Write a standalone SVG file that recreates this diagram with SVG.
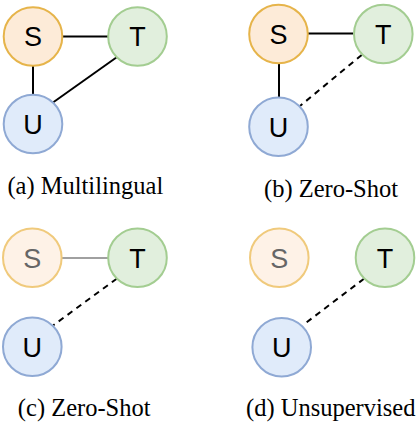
<svg xmlns="http://www.w3.org/2000/svg" width="420" height="424" viewBox="0 0 420 424">
<style>
.n circle{stroke-width:2}
.s circle{fill:#fdebd8;stroke:#e6b44a}
.s.f circle{fill:#fef2e7;stroke:#f0ca7c}
.t circle{fill:#e1efdd;stroke:#a3cd91}
.u circle{fill:#e0ebfa;stroke:#8fa9d4}
.n text{font-family:"Liberation Sans",Arial,sans-serif;font-size:27px;text-anchor:middle;fill:#000}
.f text{fill:#666}
.e{stroke:#000;stroke-width:2;fill:none}
.d{stroke-dasharray:6,5}
.g{stroke:#a0a0a0}
.lbl{font-family:"Liberation Serif","Times New Roman",serif;font-size:24.5px;text-anchor:middle;fill:#000}
</style>
<rect width="420" height="424" fill="#fff"/>
<g id="connectors">
<line class="e" x1="62" y1="36.5" x2="108" y2="36.5"/>
<line class="e" x1="33" y1="66" x2="33" y2="95"/>
<line class="e" x1="116.7" y1="57.3" x2="53.3" y2="102.3"/>
<line class="e" x1="308" y1="33.5" x2="353" y2="33.5"/>
<line class="e" x1="279" y1="64" x2="279" y2="97"/>
<line class="e d" x1="361.7" y1="55" x2="300" y2="106"/>
<line class="e g" x1="62" y1="258" x2="108" y2="258"/>
<line class="e d" x1="116.7" y1="278.7" x2="53.3" y2="325.3"/>
<line class="e d" x1="364" y1="278.7" x2="302.7" y2="325.3"/>
</g>
<g id="a-S" class="n s"><circle cx="33" cy="36.5" r="29.3"/><text x="33" y="46.3">S</text></g>
<g id="a-T" class="n t"><circle cx="137.5" cy="36.5" r="29.3"/><text x="137.5" y="46.3">T</text></g>
<g id="a-U" class="n u"><circle cx="33" cy="124" r="29.3"/><text x="33" y="133.8">U</text></g>
<g id="b-S" class="n s"><circle cx="278.5" cy="34" r="29.3"/><text x="278.5" y="43.8">S</text></g>
<g id="b-T" class="n t"><circle cx="383.3" cy="34" r="29.3"/><text x="383.3" y="43.8">T</text></g>
<g id="b-U" class="n u"><circle cx="278.5" cy="126.7" r="29.3"/><text x="278.5" y="136.5">U</text></g>
<g id="c-S" class="n s f"><circle cx="32.3" cy="257.8" r="29.3"/><text x="32.3" y="267.6">S</text></g>
<g id="c-T" class="n t"><circle cx="137.5" cy="257.8" r="29.3"/><text x="137.5" y="267.6">T</text></g>
<g id="c-U" class="n u"><circle cx="32.3" cy="346.7" r="29.3"/><text x="32.3" y="356.5">U</text></g>
<g id="d-S" class="n s f"><circle cx="279.3" cy="257.8" r="29.3"/><text x="279.3" y="267.6">S</text></g>
<g id="d-T" class="n t"><circle cx="385" cy="257.8" r="29.3"/><text x="385" y="267.6">T</text></g>
<g id="d-U" class="n u"><circle cx="281.7" cy="347.3" r="29.3"/><text x="281.7" y="357.1">U</text></g>
<g id="labels">
<text class="lbl" x="85.3" y="194">(a) Multilingual</text>
<text class="lbl" x="331" y="196.5">(b) Zero-Shot</text>
<text class="lbl" x="84.2" y="416">(c) Zero-Shot</text>
<text class="lbl" x="330.8" y="416">(d) Unsupervised</text>
</g>
</svg>
